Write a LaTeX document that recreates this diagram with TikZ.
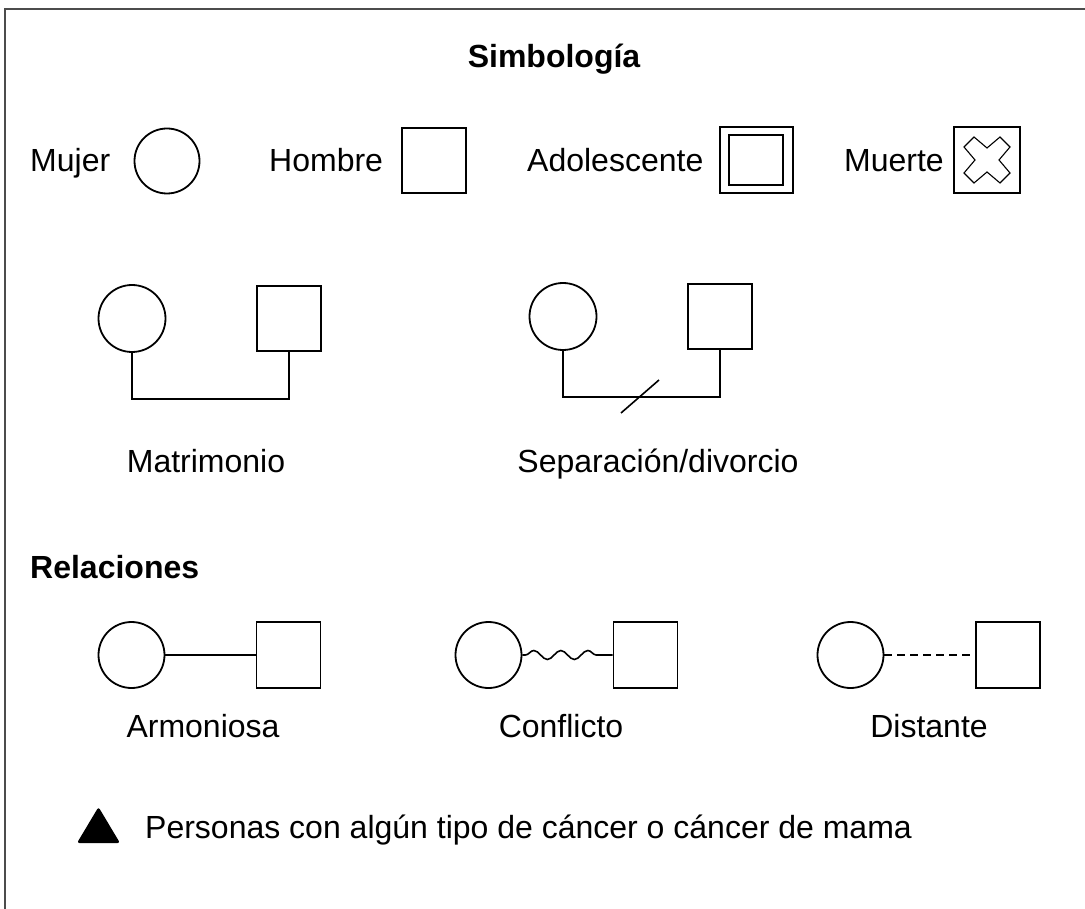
\documentclass[tikz,border=0pt]{standalone}
\usepackage{fontspec}
\setmainfont{Liberation Sans}
\usetikzlibrary{decorations.pathmorphing,calc}
\begin{document}
\begin{tikzpicture}[x=1pt,y=-1pt,
  every node/.style={font=\fontsize{32}{38}\selectfont},
  sym/.style={draw,line width=1.8pt,inner sep=0pt},
  fem/.style={sym,circle,minimum size=66pt},
  mal/.style={sym,rectangle,minimum width=64pt,minimum height=65pt},
  lab/.style={anchor=base,inner sep=0pt},
  labw/.style={anchor=base west,inner sep=0pt},
  bold/.style={font=\fontsize{32}{38}\selectfont\bfseries},
  link/.style={line width=1.6pt}]
\useasboundingbox (0,0) rectangle (1085,909);
% frame
\draw[line width=1.5pt,black!70] (5,909) -- (5,9) -- (1085,9);
% title
\node[lab,bold] (title) at (554,68) {Simbología};
% row 1
\node[labw] (tmujer) at (30,172) {Mujer};
\node[fem,minimum size=65pt] (mujer) at (167,161) {};
\node[labw] (thombre) at (269,172) {Hombre};
\node[mal] (hombre) at (434,160.5) {};
\node[labw] (tadol) at (527,172) {Adolescente};
\node[sym,minimum width=73pt,minimum height=66pt] (adol) at (756.5,160) {};
\node[sym,minimum width=54pt,minimum height=50pt] (adolin) at (756,160) {};
\node[labw] (tmuerte) at (844,172) {Muerte};
\node[sym,minimum width=66pt,minimum height=66pt] (muerte) at (987,160) {};
\draw[line width=1.1pt,shift={(muerte.center)},line join=miter]
  (0,-12) -- (13,-23) -- (23,-13) -- (12,0) -- (23,13) -- (13,23)
  -- (0,12) -- (-13,23) -- (-23,13) -- (-12,0) -- (-23,-13) -- (-13,-23) -- cycle;
% row 2: matrimonio
\node[fem,minimum size=67pt] (m1) at (132,318.5) {};
\node[mal] (m2) at (289,318.5) {};
\coordinate (mline) at (0,399);
\draw[link] (m1.south) -- (m1.south |- mline) -| (m2.south);
\node[lab] (tmatri) at (206,472) {Matrimonio};
% separacion
\node[fem,minimum size=67pt] (s1) at (563,316.5) {};
\node[mal] (s2) at (720,316.5) {};
\coordinate (sline) at (0,397);
\draw[link] (s1.south) -- (s1.south |- sline) -| (s2.south);
\coordinate (sa) at (621,413);
\coordinate (sb) at (659,380);
\draw[link] (sa) -- (sb);
\node[lab] (tsep) at (658,472) {Separación/divorcio};
% relaciones
\node[labw,bold] (trel) at (30,578) {Relaciones};
\node[fem] (a1) at (131.5,655) {};
\node[mal,minimum height=66pt] (a2) at (288.5,655) {};
\draw[link] (a1) -- (a2);
\node[lab] (tarm) at (203,737) {Armoniosa};
\node[fem] (c1) at (488.5,655) {};
\node[mal,minimum height=66pt] (c2) at (645.5,655) {};
\draw[link,decorate,decoration={snake,amplitude=4.5pt,segment length=27pt,pre length=3pt,post length=6pt}] (c1) -- (c2);
\node[lab] (tcon) at (561,737) {Conflicto};
\node[fem] (d1) at (850.5,655) {};
\node[mal,minimum height=66pt] (d2) at (1008,655) {};
\draw[link,dash pattern=on 8pt off 5pt] (d1) -- (d2);
\node[lab] (tdis) at (929,737) {Distante};
% cancer
\fill[rounded corners=2.5pt] (77,843) -- (98.5,807) -- (120,843) -- cycle;
\node[labw] (tcan) at (145,838) {Personas con algún tipo de cáncer o cáncer de mama};
\end{tikzpicture}
\end{document}
